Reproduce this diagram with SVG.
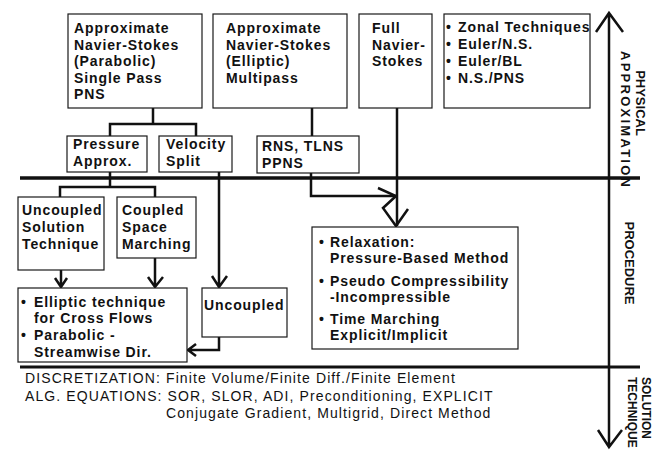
<svg xmlns="http://www.w3.org/2000/svg" width="652" height="450" viewBox="0 0 652 450">
<style>
.box{fill:#fff;stroke:#1a1a1a;stroke-width:1.2}
.t{font-family:"Liberation Sans",Arial,sans-serif;font-weight:bold;font-size:14px;letter-spacing:0.9px;fill:#111}
.b{font-family:"Liberation Sans",Arial,sans-serif;font-size:14px;letter-spacing:1.1px;fill:#111}
.ax{font-family:"Liberation Sans",Arial,sans-serif;font-weight:bold;font-size:13px;fill:#111}
.ax2{font-family:"Liberation Sans",Arial,sans-serif;font-weight:bold;font-size:12px;fill:#111}
.c{fill:none;stroke:#111;stroke-width:2.5}
</style>
<rect width="652" height="450" fill="#fff"/>
<g id="connectors">
<path class="c" d="M153,108 V124 M110,136 V124 H196 V136"/>
<path class="c" d="M312,108 V136"/>
<path class="c" d="M397,108 V226"/>
<path class="c" d="M311,173 V196 H396"/>
<path class="c" d="M378,188 L396,196 L383,208 L396,226 L408,209"/>
<path class="c" d="M110,172 V187 M60,197 V187 H155 V197"/>
<path class="c" d="M61,270 V287 M55,278 L61,287 L67,278"/>
<path class="c" d="M155,258 V287 M148,277 L155,287 L163,277"/>
<path class="c" d="M219,172 V287 M212,276 L219,287 L227,276"/>
<path class="c" d="M219,337 V350 H188 M196,344 L188,350 L196,356"/>
<path class="c" style="stroke-width:3.5" d="M20,178 H640"/>
<path class="c" style="stroke-width:3" d="M20,367 H640"/>
<path class="c" d="M609,13 V447 M596,32 L609,13 L623,32 M598,430 L609,447 L622,430"/>
</g>
<g id="n1"><rect class="box" x="68" y="14" width="134" height="94"/>
<text class="t" x="74" y="33">Approximate</text><text class="t" x="74" y="49.5">Navier-Stokes</text><text class="t" x="74" y="66">(Parabolic)</text><text class="t" x="74" y="82.5">Single Pass</text><text class="t" x="74" y="99">PNS</text></g>
<g id="n2"><rect class="box" x="213" y="14" width="134" height="94"/>
<text class="t" x="226" y="33">Approximate</text><text class="t" x="226" y="49.5">Navier-Stokes</text><text class="t" x="226" y="66">(Elliptic)</text><text class="t" x="226" y="82.5">Multipass</text></g>
<g id="n3"><rect class="box" x="359" y="14" width="73" height="94"/>
<text class="t" x="372" y="33">Full</text><text class="t" x="372" y="49.5">Navier-</text><text class="t" x="372" y="66">Stokes</text></g>
<g id="n4"><rect class="box" x="444" y="14" width="146" height="94"/>
<text class="t" x="446" y="32">•</text><text class="t" x="458" y="32">Zonal Techniques</text>
<text class="t" x="446" y="49">•</text><text class="t" x="458" y="49">Euler/N.S.</text>
<text class="t" x="446" y="66">•</text><text class="t" x="458" y="66">Euler/BL</text>
<text class="t" x="446" y="83">•</text><text class="t" x="458" y="83">N.S./PNS</text></g>
<g id="n5"><rect class="box" x="67" y="136" width="80" height="36"/>
<text class="t" x="73" y="149">Pressure</text><text class="t" x="73" y="166">Approx.</text></g>
<g id="n6"><rect class="box" x="159" y="136" width="73" height="36"/>
<text class="t" x="166" y="149">Velocity</text><text class="t" x="166" y="166">Split</text></g>
<g id="n7"><rect class="box" x="257" y="136" width="102" height="37"/>
<text class="t" x="262" y="151">RNS, TLNS</text><text class="t" x="262" y="168">PPNS</text></g>
<g id="n8"><rect class="box" x="18" y="197" width="86" height="73"/>
<text class="t" x="22" y="215">Uncoupled</text><text class="t" x="22" y="232">Solution</text><text class="t" x="22" y="249">Technique</text></g>
<g id="n9"><rect class="box" x="117" y="197" width="79" height="61"/>
<text class="t" x="122" y="215">Coupled</text><text class="t" x="122" y="232">Space</text><text class="t" x="122" y="249">Marching</text></g>
<g id="n10"><rect class="box" x="18" y="288" width="169" height="74"/>
<text class="t" x="21" y="307">•</text><text class="t" x="34" y="307">Elliptic technique</text>
<text class="t" x="34" y="323">for Cross Flows</text>
<text class="t" x="21" y="340">•</text><text class="t" x="34" y="340">Parabolic -</text>
<text class="t" x="34" y="357">Streamwise Dir.</text></g>
<g id="n11"><rect class="box" x="202" y="288" width="85" height="49"/>
<text class="t" x="204" y="310">Uncoupled</text></g>
<g id="n12"><rect class="box" x="312" y="227" width="206" height="122"/>
<text class="t" x="319" y="247">•</text><text class="t" x="330" y="247">Relaxation:</text>
<text class="t" x="330" y="263">Pressure-Based Method</text>
<text class="t" x="319" y="286">•</text><text class="t" x="330" y="286">Pseudo Compressibility</text>
<text class="t" x="330" y="302">-Incompressible</text>
<text class="t" x="319" y="324">•</text><text class="t" x="330" y="324">Time Marching</text>
<text class="t" x="330" y="340">Explicit/Implicit</text></g>
<g id="labels">
<text class="b" x="25" y="383">DISCRETIZATION: Finite Volume/Finite Diff./Finite Element</text>
<text class="b" x="25" y="401">ALG. EQUATIONS: SOR, SLOR, ADI, Preconditioning, EXPLICIT</text>
<text class="b" x="166" y="418">Conjugate Gradient, Multigrid, Direct Method</text>
<text class="ax" transform="translate(636,103) rotate(90)" text-anchor="middle">PHYSICAL</text>
<text class="ax" transform="translate(621,119) rotate(90)" text-anchor="middle" textLength="136" lengthAdjust="spacing">APPROXIMATION</text>
<text class="ax" transform="translate(625,263) rotate(90)" text-anchor="middle">PROCEDURE</text>
<text class="ax2" transform="translate(642,377) rotate(90)">SOLUTION</text>
<text class="ax2" transform="translate(628,377) rotate(90)">TECHNIQUE</text>
</g>
</svg>
